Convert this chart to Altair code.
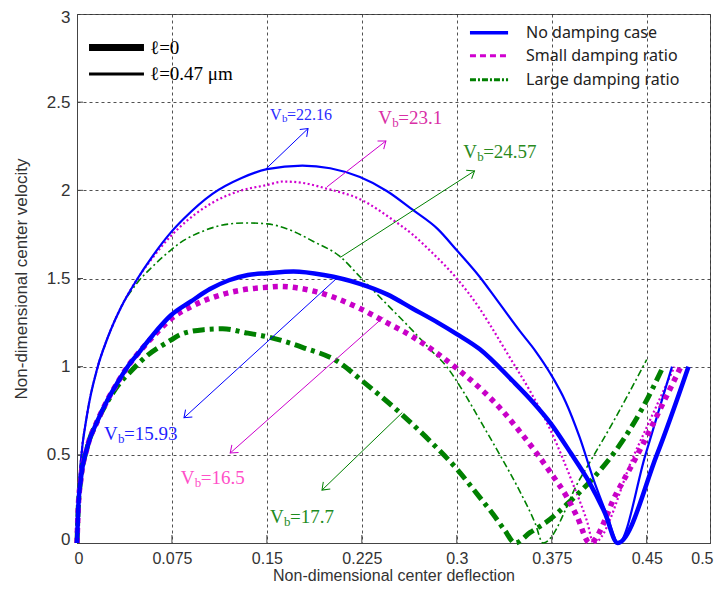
import math
import altair as alt
import pandas as pd

W, H = 633, 529

# ---------------- data ----------------
# l = 0 (thick lines)
nd_thick_x = [0, 0.001, 0.003, 0.008, 0.016, 0.024, 0.032, 0.040, 0.050, 0.060, 0.074, 0.090, 0.105, 0.120,
              0.135, 0.150, 0.171, 0.195, 0.2235, 0.245, 0.265, 0.285, 0.300, 0.318, 0.344, 0.360, 0.374,
              0.390, 0.405, 0.417, 0.427, 0.458, 0.483]
nd_thick_y = [0, 0.20, 0.36, 0.54, 0.69, 0.81, 0.91, 1.00, 1.09, 1.18, 1.29, 1.37, 1.44, 1.49,
              1.52, 1.53, 1.54, 1.52, 1.47, 1.41, 1.33, 1.25, 1.185, 1.10, 0.92, 0.80, 0.68,
              0.51, 0.34, 0.17, 0.0, 0.50, 1.0]

sd_thick_x = [0, 0.001, 0.003, 0.008, 0.016, 0.024, 0.032, 0.040, 0.050, 0.060, 0.074, 0.090, 0.115, 0.135,
              0.150, 0.160, 0.186, 0.2235, 0.242, 0.265, 0.300, 0.321, 0.336, 0.350, 0.374, 0.387, 0.395,
              0.405, 0.426, 0.447, 0.460, 0.477]
sd_thick_y = [0, 0.20, 0.36, 0.54, 0.69, 0.81, 0.91, 1.00, 1.09, 1.17, 1.27, 1.34, 1.41, 1.44,
              1.45, 1.455, 1.43, 1.33, 1.26, 1.17, 0.99, 0.86, 0.75, 0.63, 0.40, 0.26, 0.15,
              0.0, 0.28, 0.56, 0.75, 1.0]

ld_thick_x = [0, 0.001, 0.003, 0.008, 0.016, 0.024, 0.032, 0.042, 0.055, 0.074, 0.081, 0.100, 0.115, 0.135,
              0.150, 0.178, 0.208, 0.2235, 0.258, 0.280, 0.300, 0.318, 0.329, 0.338, 0.346, 0.358, 0.371,
              0.387, 0.408, 0.431, 0.447, 0.463]
ld_thick_y = [0, 0.20, 0.36, 0.54, 0.69, 0.80, 0.89, 0.97, 1.06, 1.15, 1.18, 1.21, 1.215, 1.19,
              1.17, 1.11, 1.02, 0.93, 0.72, 0.57, 0.42, 0.26, 0.16, 0.07, 0.0, 0.06, 0.12,
              0.22, 0.37, 0.58, 0.77, 1.0]

# l = 0.47 um (thin lines)
nd_thin_x = [0, 0.001, 0.003, 0.008, 0.016, 0.024, 0.035, 0.047, 0.060, 0.074, 0.0845, 0.107, 0.130, 0.150,
             0.178, 0.200, 0.2235, 0.245, 0.265, 0.285, 0.300, 0.318, 0.3325, 0.350, 0.362, 0.374, 0.386,
             0.397, 0.408, 0.418, 0.4276, 0.449, 0.470]
nd_thin_y = [0, 0.25, 0.46, 0.73, 0.99, 1.16, 1.34, 1.49, 1.63, 1.76, 1.84, 1.98, 2.07, 2.12,
             2.14, 2.125, 2.075, 1.995, 1.89, 1.78, 1.66, 1.51, 1.37, 1.20, 1.09, 0.96, 0.80,
             0.60, 0.36, 0.17, 0.0, 0.50, 1.0]

sd_thin_x = [0, 0.001, 0.003, 0.008, 0.016, 0.024, 0.035, 0.047, 0.060, 0.074, 0.081, 0.107, 0.130, 0.150,
             0.163, 0.180, 0.197, 0.2235, 0.250, 0.265, 0.280, 0.300, 0.318, 0.326, 0.342, 0.358, 0.374,
             0.392, 0.403, 0.408, 0.440, 0.472]
sd_thin_y = [0, 0.25, 0.46, 0.73, 0.99, 1.16, 1.34, 1.49, 1.62, 1.74, 1.79, 1.93, 2.00, 2.03,
             2.05, 2.04, 2.01, 1.95, 1.83, 1.75, 1.65, 1.50, 1.33, 1.24, 1.05, 0.86, 0.64,
             0.33, 0.12, 0.0, 0.50, 1.0]

ld_thin_x = [0, 0.001, 0.003, 0.008, 0.016, 0.024, 0.035, 0.047, 0.060, 0.074, 0.081, 0.100, 0.121, 0.134,
             0.150, 0.170, 0.1867, 0.2077, 0.2235, 0.2446, 0.2657, 0.280, 0.292, 0.305, 0.318, 0.334, 0.350,
             0.362, 0.368, 0.397, 0.423, 0.450]
ld_thin_y = [0, 0.25, 0.46, 0.73, 0.99, 1.16, 1.34, 1.47, 1.57, 1.66, 1.70, 1.77, 1.81, 1.815,
             1.81, 1.77, 1.71, 1.625, 1.51, 1.355, 1.20, 1.09, 1.00, 0.86, 0.70, 0.50, 0.29,
             0.11, 0.0, 0.36, 0.68, 1.04]

x_ticks = [0, 0.075, 0.15, 0.225, 0.3, 0.375, 0.45, 0.5]
y_ticks = [0, 0.5, 1, 1.5, 2, 2.5, 3]

# annotation arrows: start on curve -> arrow tip
arr_x1 = [0.149, 0.1975, 0.208, 0.205, 0.242, 0.257]
arr_y1 = [2.12, 2.02, 1.62, 1.50, 1.28, 0.74]
arr_x2 = [0.1825, 0.244, 0.314, 0.0845, 0.121, 0.1935]
arr_y2 = [2.35, 2.28, 2.11, 0.71, 0.51, 0.30]
arr_color = ["#0000FF", "#CC00CC", "#008000", "#0000FF", "#CC00CC", "#008000"]

# annotation labels  V_b = value
lab_x = [0.1525, 0.238, 0.305, 0.0213, 0.082, 0.1525]
lab_y = [2.43, 2.41, 2.22, 0.62, 0.37, 0.147]
lab_val = ["=22.16", "=23.1", "=24.57", "=15.93", "=16.5", "=17.7"]
lab_color = ["#2B2BFF", "#D92FA6", "#2A8A1E", "#1F1FFF", "#FF4FC8", "#1E8C1E"]
lab_size = [16, 19, 19, 19, 19, 19]

# legends
leg_r_labels = ["No damping case", "Small damping ratio", "Large damping ratio"]
leg_r_y = [2.893, 2.763, 2.627]
leg_r_x = [0.3104, 0.3405, 0.3547]   # line start, line end, text start
leg_l_labels = ["\u2113=0", "\u2113=0.47 \u03bcm"]
leg_l_y = [2.81, 2.66]
leg_l_x = [0.0095, 0.0529, 0.0577]

# ---------------- chart ----------------
XSCALE = alt.Scale(domain=[0, 0.5], nice=False, zero=False)
YSCALE = alt.Scale(domain=[0, 3], nice=False, zero=False)
XAXIS = alt.Axis(values=x_ticks, labelExpr="'' + datum.value", title="Non-dimensional center deflection",
                 labelPadding=7, titlePadding=1, labelFontSize=16, titleFontSize=16,
                 labelFlush=True, labelFlushOffset=3)
YAXIS = alt.Axis(values=y_ticks, labelExpr="'' + datum.value", title="Non-dimensional center velocity",
                 labelPadding=7, titlePadding=16, labelFontSize=17, titleFontSize=17,
                 labelFlush=True, labelFlushOffset=5)


def X(f):
    return alt.X(f, type="quantitative", scale=XSCALE, axis=XAXIS)


def Y(f):
    return alt.Y(f, type="quantitative", scale=YSCALE, axis=YAXIS)


layers = []

# inward tick marks
layers.append(alt.Chart(pd.DataFrame({"v": x_ticks[1:-1]})).mark_rule(color="#444", strokeWidth=1)
              .encode(x=X("v"), y=alt.value(H), y2=alt.value(H - 8)))
layers.append(alt.Chart(pd.DataFrame({"v": y_ticks[1:-1]})).mark_rule(color="#444", strokeWidth=1)
              .encode(y=Y("v"), x=alt.value(0), x2=alt.value(6)))

curves = [
    (ld_thin_x, ld_thin_y, "#008000", 1.6, [7, 3, 2, 3]),
    (sd_thin_x, sd_thin_y, "#D000D0", 2.2, [2, 2.5]),
    (nd_thin_x, nd_thin_y, "#0000FF", 2.2, None),
    (ld_thick_x, ld_thick_y, "#008000", 5, [12, 5, 4, 5]),
    (sd_thick_x, sd_thick_y, "#C800C8", 5.5, [5, 5]),
    (nd_thick_x, nd_thick_y, "#0000FF", 4.5, None),
]
for xs, ys, col, sw, dash in curves:
    df = pd.DataFrame({"x": xs, "y": ys, "i": list(range(len(xs)))})
    kw = dict(color=col, strokeWidth=sw, strokeCap="butt", strokeJoin="round", interpolate="monotone")
    if dash:
        kw["strokeDash"] = dash
    layers.append(alt.Chart(df).mark_line(**kw).encode(x=X("x"), y=Y("y"), order="i:Q"))

# arrows
W_PER_X = W / 0.5
H_PER_Y = H / 3.0
angles = []
for i in range(len(arr_x1)):
    dxp = (arr_x2[i] - arr_x1[i]) * W_PER_X
    dyp = -(arr_y2[i] - arr_y1[i]) * H_PER_Y
    angles.append(math.degrees(math.atan2(dyp, dxp)) % 360)
arr_df = pd.DataFrame({"x1": arr_x1, "y1": arr_y1, "x2": arr_x2, "y2": arr_y2,
                       "c": arr_color, "ang": angles})
layers.append(alt.Chart(arr_df).mark_rule(strokeWidth=1).encode(
    x=X("x1"), y=Y("y1"), x2="x2", y2="y2", color=alt.Color("c:N", scale=None)))
layers.append(alt.Chart(arr_df).mark_point(
    shape="M -1 -0.75 L 0 0 L -1 0.75", filled=False, size=180, strokeWidth=1, opacity=1).encode(
    x=X("x2"), y=Y("y2"), color=alt.Color("c:N", scale=None), angle=alt.Angle("ang:Q", scale=None)))

# labels V_b=...
for i in range(len(lab_x)):
    df = pd.DataFrame({"x": [lab_x[i]], "y": [lab_y[i]]})
    s = lab_size[i]
    c = lab_color[i]
    base = alt.Chart(df)
    layers.append(base.mark_text(text="V", font="Liberation Serif", fontSize=s, color=c,
                                 align="left", baseline="middle").encode(x=X("x"), y=Y("y")))
    layers.append(base.mark_text(text="b", font="Liberation Serif", fontSize=round(s * 0.68), color=c,
                                 align="left", baseline="middle", dx=round(s * 0.72),
                                 dy=round(s * 0.28)).encode(x=X("x"), y=Y("y")))
    layers.append(base.mark_text(text=lab_val[i], font="Liberation Serif", fontSize=s, color=c,
                                 align="left", baseline="middle", dx=round(s * 1.07)).encode(x=X("x"), y=Y("y")))

# right legend
leg_r_styles = [("#0000FF", 3.5, None), ("#D000D0", 3, [6, 4]), ("#008000", 3, [6, 2, 2, 2])]
for k in range(3):
    col, sw, dash = leg_r_styles[k]
    df = pd.DataFrame({"x": [leg_r_x[0]], "x2": [leg_r_x[1]], "y": [leg_r_y[k]]})
    kw = dict(color=col, strokeWidth=sw, strokeCap="butt")
    if dash:
        kw["strokeDash"] = dash
    layers.append(alt.Chart(df).mark_rule(**kw).encode(x=X("x"), x2="x2", y=Y("y")))
leg_r_df = pd.DataFrame({"x": [leg_r_x[2]] * 3, "y": leg_r_y, "t": leg_r_labels})
layers.append(alt.Chart(leg_r_df).mark_text(font="Noto Sans", fontSize=16, color="#222",
                                            align="left", baseline="middle").encode(
    x=X("x"), y=Y("y"), text="t:N"))

# left legend
for k, sw in enumerate([7, 3]):
    df = pd.DataFrame({"x": [leg_l_x[0]], "x2": [leg_l_x[1]], "y": [leg_l_y[k]]})
    layers.append(alt.Chart(df).mark_rule(color="#000", strokeWidth=sw, strokeCap="butt")
                  .encode(x=X("x"), x2="x2", y=Y("y")))
leg_l_df = pd.DataFrame({"x": [leg_l_x[2]] * 2, "y": leg_l_y, "t": leg_l_labels})
layers.append(alt.Chart(leg_l_df).mark_text(font="Liberation Serif", fontSize=19, color="#000",
                                            align="left", baseline="middle").encode(
    x=X("x"), y=Y("y"), text="t:N"))

chart = alt.layer(*layers).properties(
    width=W, height=H,
    padding={"left": 69, "top": 6, "right": 5, "bottom": 42},
    autosize=alt.AutoSizeParams(type="none"),
    background="white",
).configure_view(stroke="#555", strokeWidth=1).configure_axis(
    labelFont="Liberation Sans", labelColor="#333",
    titleFont="Liberation Sans", titleFontWeight="normal", titleColor="#333",
    gridColor="#333", gridDash=[3, 3], gridWidth=1, gridOpacity=0.85,
    domainColor="#444", ticks=False, tickSize=0,
)

chart.save("out.html", embed_options={"renderer": "svg", "actions": False})
